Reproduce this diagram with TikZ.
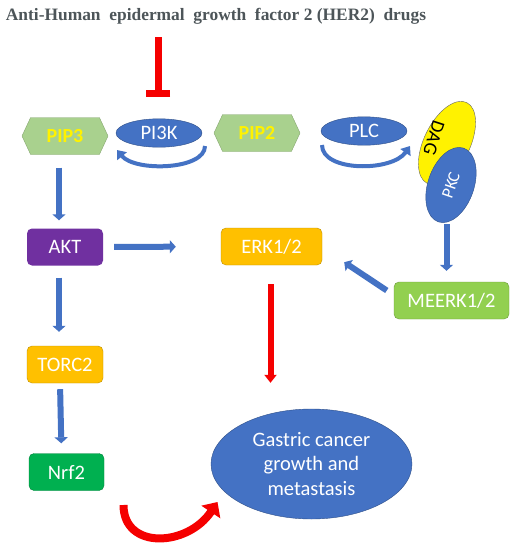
\documentclass[tikz,border=0pt]{standalone}
\usepackage{fontspec}
\setmainfont{Liberation Serif}
\newfontfamily\calib{Carlito}
\usetikzlibrary{positioning, arrows.meta, shapes.geometric, shapes.symbols}
\definecolor{hblue}{HTML}{4472C4}
\definecolor{pipgreen}{HTML}{A9D18E}
\definecolor{aktpurple}{HTML}{7030A0}
\definecolor{gold}{HTML}{FFC000}
\definecolor{meerkgreen}{HTML}{92D050}
\definecolor{nrfgreen}{HTML}{00B050}
\definecolor{titlegray}{HTML}{4D5559}
\definecolor{hred}{HTML}{F50000}

\begin{document}
\begin{tikzpicture}[x=1pt, y=-1pt,
      box/.style={rounded corners=5pt, minimum height=37pt, text=white,
        font=\calib\fontsize{20.5}{22}\selectfont},
      oval/.style={ellipse, fill=hblue, draw=hblue!70!black, text=white,
        font=\calib\fontsize{20.5}{22}\selectfont},
      pip/.style={signal, signal to=east and west, signal pointer angle=130,
        fill=pipgreen, draw=pipgreen!80!black, minimum width=86pt,
        minimum height=37pt, text=yellow, font=\calib\bfseries\fontsize{20}{22}\selectfont},
      blk/.style={-{Triangle[width=13pt,length=6pt]}, line width=6pt, draw=hblue},
      redblk/.style={-{Triangle[width=12pt,length=8pt]}, line width=6pt, draw=hred},
      loopback/.style={-{Triangle[width=12pt,length=8pt]}, line width=4pt, draw=hblue}]
    \path[fill=white, use as bounding box] (0,0) rectangle (517,550);

    \node[font=\bfseries\fontsize{17.4}{20}\selectfont, text=titlegray] (title) at (216,16)
      {Anti-Human\ \ epidermal\ \ growth\ \ factor 2 (HER2)\ \ drugs};

    \node[pip] (pip3) at (65,136) {PIP3};
    \node[oval, minimum width=86pt, minimum height=28pt] (pi3k) at (159,133) {PI3K};
    \node[pip] (pip2) at (257,133) {PIP2};
    \node[oval, minimum width=86pt, minimum height=27pt] (plc) at (364,131) {PLC};
    \node[ellipse, fill=yellow, draw=black!60, minimum width=90pt, minimum height=46pt,
      rotate=-116] (dag) at (447,143) {};
    \node[font=\calib\fontsize{19}{22}\selectfont, rotate=-108, inner sep=0pt] (dagtxt) at (434,138) {DAG};
    \node[oval, minimum width=78pt, minimum height=46pt, rotate=71, inner sep=0pt,
      font=\calib\fontsize{17}{20}\selectfont] (pkc) at (451,185) {PKC};

    \node[box, fill=aktpurple, minimum width=76pt] (akt) at (65,247) {AKT};
    \node[box, fill=gold, draw=gold!75!black, minimum width=101pt] (erk) at (271.5,246.5) {ERK1/2};
    \node[box, fill=meerkgreen, draw=meerkgreen!75!black, minimum width=115pt] (meerk) at (451.5,300.5) {MEERK1/2};
    \node[box, fill=gold, draw=gold!75!black, minimum width=76pt] (torc) at (65,364.5) {TORC2};
    \node[box, fill=nrfgreen, draw=nrfgreen!75!black, minimum width=75pt] (nrf) at (66.5,472) {Nrf2};
    \node[oval, minimum width=201pt, minimum height=110pt, align=center,
      font=\calib\fontsize{20.5}{24.5}\selectfont] (gastric) at (311.5,464)
      {Gastric cancer\\growth and\\metastasis};

    \coordinate (drug) at (158,37);
    \draw[hred, line width=7pt, -{Bar[width=24pt]}] (drug) -- ([yshift=22pt]pi3k.north -| drug);

    \draw[loopback] ([shift={(46,13)}]pi3k.center) .. controls +(0,24) and +(18,22) .. ([shift={(-42,17)}]pi3k.center);
    \draw[loopback] ([shift={(-42,14)}]plc.center) .. controls +(0,27) and +(-18,26) .. ([shift={(46,15)}]plc.center);

    \draw[blk, shorten <=13pt, shorten >=8pt] ([xshift=-6pt]pip3.south) -- ([xshift=-6pt]akt.north);
    \draw[blk, shorten <=11pt, shorten >=45pt] (akt.east) -- (erk.west);
    \draw[blk, shorten <=12pt, shorten >=14pt] ([xshift=-6pt]akt.south) -- ([xshift=-6pt]torc.north);
    \draw[blk, shorten <=6pt, shorten >=10pt] ([xshift=-5pt]torc.south) -- ([xshift=-5pt]nrf.north);
    \draw[blk, shorten >=11pt] ([xshift=-5pt,yshift=58pt]meerk.north) -- ([xshift=-5pt]meerk.north);
    \draw[blk] ([xshift=-7pt,yshift=10pt]meerk.west) -- ([xshift=22pt,yshift=3pt]erk.south east);
    \draw[redblk, shorten <=19pt, shorten >=26pt] ([xshift=-1pt]erk.south) -- ([xshift=-1pt]erk.south |- gastric.north);
    \draw[hred, line width=8pt, -{Triangle[width=22pt,length=12pt]}]
      ([shift={(57,33)}]nrf.center) .. controls +(0,45) and +(-30,45) .. ([shift={(-94,38)}]gastric.center);
  \end{tikzpicture}
\end{document}
